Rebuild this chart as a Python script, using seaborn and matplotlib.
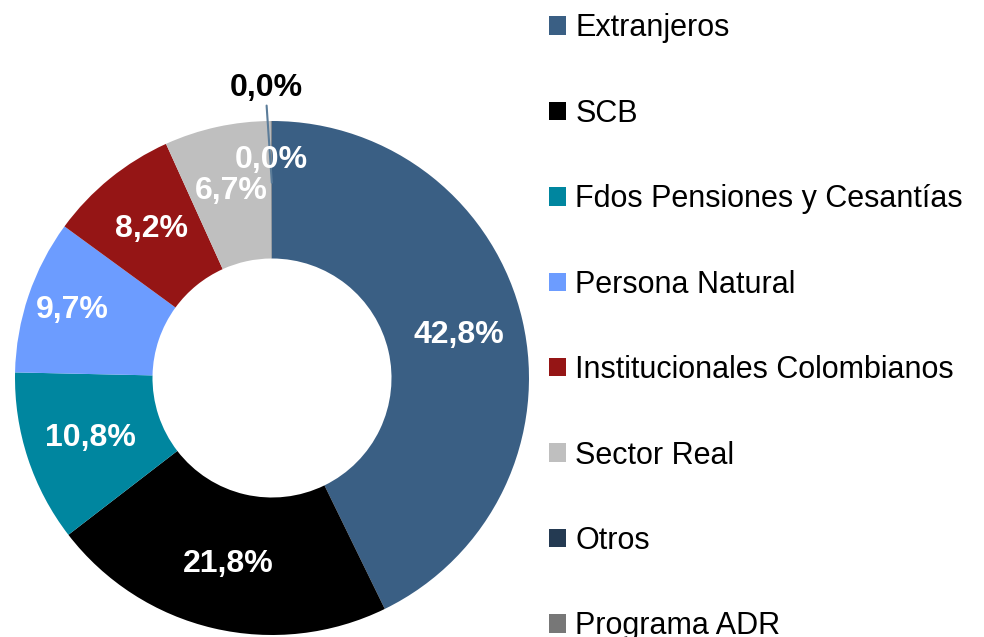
import numpy as np
import matplotlib
matplotlib.use('Agg')
import matplotlib.pyplot as plt
import seaborn as sns
from matplotlib.patches import Patch

# ==========================================
# 数据
# ==========================================
categorias = ['Extranjeros', 'SCB', 'Fdos Pensiones y Cesantías', 'Persona Natural',
              'Institucionales Colombianos', 'Sector Real', 'Otros', 'Programa ADR']
participacion = [42.8, 21.8, 10.8, 9.7, 8.2, 6.7, 0.04, 0.03]
colores = ['#3A5F84', '#000000', '#00869F', '#6C9CFF', '#951515', '#BFBFBF', '#243A52', '#777777']

sns.set_theme(style='white')
plt.rcParams['font.family'] = ['Liberation Sans', 'DejaVu Sans']

fig = plt.figure(figsize=(9.84, 6.37), dpi=100)
# donut centrado en (272, 378) px, radio ~257 px
ax = fig.add_axes([15 / 984, 2 / 637, 514 / 984, 514 / 637])

palette = sns.color_palette(colores)
wedges, _ = ax.pie(participacion, colors=palette, startangle=90, counterclock=False,
                   radius=1.0, wedgeprops=dict(width=0.535, linewidth=0))
ax.set_xlim(-1, 1)
ax.set_ylim(-1, 1)
ax.set_aspect('equal')
ax.axis('off')

# etiquetas de porcentaje
dist = [0.745, 0.745, 0.745, 0.82, 0.745, 0.745, 0.85, None]
for w, v, d in zip(wedges, participacion, dist):
    if d is None:
        continue
    ang = np.deg2rad((w.theta1 + w.theta2) / 2)
    ax.text(d * np.cos(ang), d * np.sin(ang), f"{v:.1f}%".replace('.', ','),
            ha='center', va='center', color='white', fontsize=23, weight='bold')

# Programa ADR: etiqueta externa con línea guía
w = wedges[-1]
ang = np.deg2rad((w.theta1 + w.theta2) / 2)
ax.plot([0.76 * np.cos(ang), 1.06 * np.cos(ang) - 0.02], [0.76 * np.sin(ang), 1.06 * np.sin(ang)],
        color='#5B7C99', lw=1.5, clip_on=False)
ax.text(1.14 * np.cos(ang) - 0.02, 1.13 * np.sin(ang), f"{participacion[-1]:.1f}%".replace('.', ','),
        ha='center', va='center', color='black', fontsize=23, weight='bold', clip_on=False)

handles = [Patch(facecolor=c, edgecolor='none') for c in colores]
fig.legend(handles, categorias, loc='upper left', bbox_to_anchor=(537 / 984, 1 - 1 / 637),
           frameon=False, fontsize=22, labelspacing=1.815, handlelength=0.55, handleheight=0.55,
           handletextpad=0.3, borderaxespad=0, labelcolor='black')

plt.savefig('out.png', dpi=100)
plt.close()
